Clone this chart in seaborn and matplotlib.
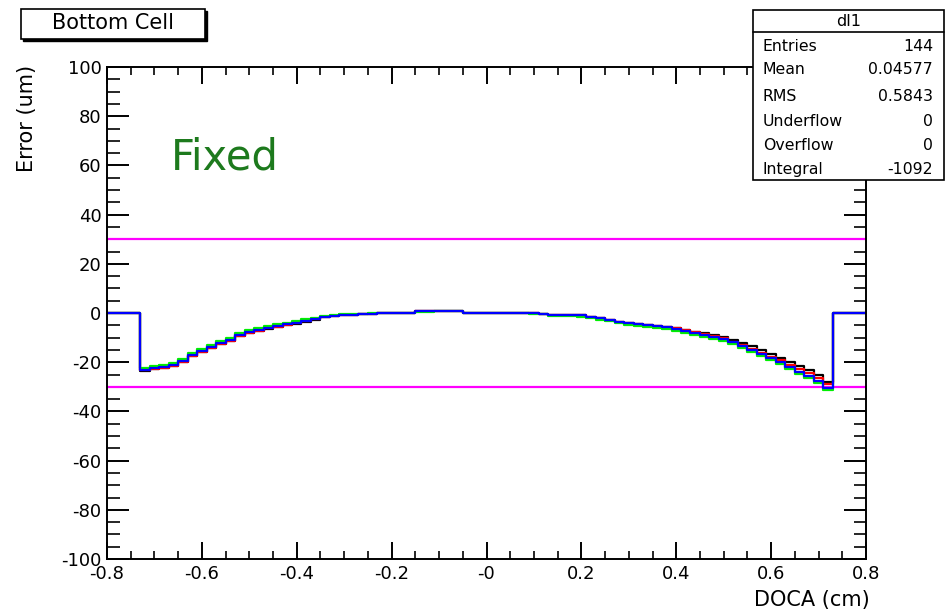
import numpy as np
import pandas as pd
import matplotlib
matplotlib.use("Agg")
import matplotlib.pyplot as plt
from matplotlib.patches import Rectangle
from matplotlib.lines import Line2D
from matplotlib.ticker import FixedLocator, FixedFormatter, MultipleLocator
import seaborn as sns

# ---------------- data ----------------
doca_range = [-0.8, 0.8]          # histogram range (cm)
fit_range = [-0.73, 0.73]         # filled region (cm)
bin_width = 0.02

err_black = [-23.4, -22.8, -22.3, -21.6, -20.0, -17.5, -16.0, -14.3, -12.8, -11.3,
             -9.5, -8.3, -7.3, -6.4, -5.7, -5.0, -4.3, -3.5, -2.7, -1.8,
             -1.3, -1.0, -0.8, -0.6, -0.3, -0.2, 0.0, 0.1, 0.1, 0.9,
             0.9, 0.9, 0.9, 0.9, 0.1, 0.1, 0.1, 0.1, 0.1, 0.1,
             0.1, 0.0, -0.3, -0.8, -0.8, -0.9, -1.0, -1.5, -2.2, -2.8,
             -3.5, -4.1, -4.5, -4.9, -5.2, -5.5, -6.1, -6.8, -7.6, -8.2,
             -8.9, -9.8, -10.9, -12.1, -13.6, -15.1, -16.6, -18.1, -19.8, -21.6,
             -23.3, -25.3, -28.0]
err_red = [-23.3, -22.7, -22.2, -21.5, -19.9, -17.4, -15.9, -14.2, -12.7, -11.2,
           -9.4, -8.2, -7.2, -6.3, -5.6, -4.9, -4.2, -3.4, -2.6, -1.7,
           -1.2, -1.0, -0.8, -0.6, -0.3, -0.2, 0.0, 0.1, 0.1, 0.9,
           0.9, 0.9, 0.9, 0.9, 0.1, 0.1, 0.1, 0.1, 0.1, 0.1,
           0.1, 0.0, -0.3, -0.8, -0.8, -0.9, -1.0, -1.5, -2.2, -2.8,
           -3.5, -4.1, -4.5, -4.9, -5.3, -5.6, -6.3, -7.0, -7.9, -8.6,
           -9.3, -10.3, -11.6, -12.9, -14.5, -16.1, -17.7, -19.3, -21.0, -22.7,
           -24.4, -26.4, -29.0]
err_green = [-22.2, -21.5, -21.0, -20.4, -18.7, -16.2, -14.7, -13.0, -11.5, -10.0,
             -8.2, -7.0, -6.1, -5.3, -4.6, -3.9, -3.2, -2.6, -1.9, -1.1,
             -0.8, -0.6, -0.5, -0.3, -0.2, -0.1, 0.0, 0.1, 0.1, 0.5,
             0.5, 0.9, 0.9, 0.9, 0.0, 0.0, 0.0, 0.0, 0.0, 0.0,
             0.0, -0.3, -0.6, -1.1, -1.1, -1.3, -1.5, -2.0, -2.7, -3.4,
             -4.1, -4.8, -5.3, -5.7, -6.1, -6.6, -7.3, -8.1, -9.0, -9.7,
             -10.5, -11.5, -12.8, -14.2, -15.8, -17.5, -19.2, -20.9, -22.8, -24.7,
             -26.5, -28.5, -31.2]
err_blue = [-23.0, -22.3, -21.8, -21.2, -19.5, -17.0, -15.5, -13.8, -12.3, -10.8,
            -9.0, -7.8, -6.9, -6.0, -5.3, -4.6, -3.9, -3.2, -2.4, -1.5,
            -1.1, -0.9, -0.7, -0.5, -0.3, -0.2, 0.0, 0.1, 0.1, 0.9,
            0.9, 0.9, 0.9, 0.9, 0.1, 0.1, 0.1, 0.1, 0.1, 0.1,
            0.1, 0.0, -0.3, -0.8, -0.8, -0.9, -1.0, -1.5, -2.2, -2.8,
            -3.5, -4.1, -4.5, -4.9, -5.3, -5.7, -6.4, -7.2, -8.1, -8.8,
            -9.6, -10.6, -11.9, -13.3, -14.9, -16.6, -18.3, -20.0, -21.9, -23.8,
            -25.6, -27.6, -30.5]

series_names = ["black", "red", "green", "blue"]
series_colors = ["#000000", "#ff0000", "#00ee00", "#0000ff"]
limit_lines = [30, -30]

x_ticks = [-0.8, -0.6, -0.4, -0.2, 0.0, 0.2, 0.4, 0.6, 0.8]
x_tick_labels = ["-0.8", "-0.6", "-0.4", "-0.2", "-0", "0.2", "0.4", "0.6", "0.8"]
y_ticks = [-100, -80, -60, -40, -20, 0, 20, 40, 60, 80, 100]
y_tick_labels = ["-100", "-80", "-60", "-40", "-20", "0", "20", "40", "60", "80", "100"]

stats_title = "dl1"
stats_labels = ["Entries", "Mean", "RMS", "Underflow", "Overflow", "Integral"]
stats_values = ["144", "0.04577", "0.5843", "0", "0", "-1092"]

title_text = "Bottom Cell"
note_text = "Fixed"
x_label = "DOCA (cm)"
y_label = "Error (um)"

# ---------------- build table ----------------
edges = np.round(np.arange(fit_range[0], fit_range[1] + bin_width / 2, bin_width), 4)
x_steps = [doca_range[0]] + list(edges) + [doca_range[1]]
rows = []
for name, vals in zip(series_names, [err_black, err_red, err_green, err_blue]):
    ys = [0.0] + list(vals) + [0.0, 0.0]
    for xv, yv in zip(x_steps, ys):
        rows.append({"doca": xv, "err": yv, "series": name})
df = pd.DataFrame(rows)

# ---------------- figure ----------------
sns.set_theme(style="ticks")
plt.rcParams["font.family"] = ["DejaVu Sans"]

W, H = 951, 611
fig = plt.figure(figsize=(W / 100, H / 100), dpi=100)
fig.patch.set_facecolor("white")
ax = fig.add_axes([107 / W, 1 - 559 / H, 759 / W, 492 / H])
ax.set_facecolor("white")

sns.lineplot(data=df, x="doca", y="err", hue="series", hue_order=series_names,
             palette=dict(zip(series_names, series_colors)), drawstyle="steps-post",
             linewidth=1.6, legend=False, estimator=None, sort=False, ax=ax)

for yl in limit_lines:
    ax.axhline(yl, color="#ff00ff", linewidth=1.6, zorder=1)

ax.set_xlim(doca_range)
ax.set_ylim(-100, 100)

ax.xaxis.set_major_locator(FixedLocator(x_ticks))
ax.xaxis.set_major_formatter(FixedFormatter(x_tick_labels))
ax.xaxis.set_minor_locator(MultipleLocator(0.05))
ax.yaxis.set_major_locator(FixedLocator(y_ticks))
ax.yaxis.set_major_formatter(FixedFormatter(y_tick_labels))
ax.yaxis.set_minor_locator(MultipleLocator(5))

for s in ax.spines.values():
    s.set_visible(True)
    s.set_linewidth(1.4)
    s.set_color("black")

ax.tick_params(axis="x", which="major", direction="in", length=12, width=1.4,
               top=True, bottom=True, pad=4.5, labelsize=13, colors="black")
ax.tick_params(axis="x", which="minor", direction="in", length=6, width=1.4,
               top=True, bottom=True)
ax.tick_params(axis="y", which="major", direction="in", length=16, width=1.4,
               left=True, right=True, pad=4, labelsize=13, colors="black")
ax.tick_params(axis="y", which="minor", direction="in", length=9, width=1.4,
               left=True, right=True)

ax.set_xlabel(x_label, fontsize=15, color="black")
ax.xaxis.set_label_coords(1.005, (559 - 600) / 492)
ax.xaxis.label.set_ha("right")
ax.xaxis.label.set_va("center")

ax.set_ylabel(y_label, fontsize=15, color="black")
ax.yaxis.label.set_rotation_mode("default")
ax.yaxis.label.set_ha("center")
ax.yaxis.label.set_va("top")
ax.yaxis.set_label_coords((27 - 107) / 759, 1 + (67 - 65) / 492)

ax.text((171 - 107) / 759, (559 - 170) / 492, note_text, transform=ax.transAxes,
        fontsize=30, color="#1d7a1d", ha="left", va="baseline")


def fx(px):
    return px / W


def fy(py):
    return 1 - py / H


# Title pave with shadow
fig.patches.append(Rectangle((fx(23), fy(41)), fx(205) - fx(21), fy(9) - fy(39),
                             transform=fig.transFigure, facecolor="black",
                             edgecolor="black", linewidth=1.0, zorder=4))
fig.patches.append(Rectangle((fx(21), fy(39)), fx(205) - fx(21), fy(9) - fy(39),
                             transform=fig.transFigure, facecolor="white",
                             edgecolor="black", linewidth=1.2, zorder=5))
fig.text(fx(113), fy(23), title_text, fontsize=15, ha="center", va="center",
         color="black", zorder=6)

# Stats box
bx0, bx1, by0, by1 = 753, 944, 10, 180
fig.patches.append(Rectangle((fx(bx0), fy(by1)), fx(bx1) - fx(bx0), fy(by0) - fy(by1),
                             transform=fig.transFigure, facecolor="white",
                             edgecolor="black", linewidth=1.2, zorder=5))
fig.lines.append(Line2D([fx(bx0), fx(bx1)], [fy(32), fy(32)], transform=fig.transFigure,
                        color="black", linewidth=1.2, zorder=6))
fig.text(fx((bx0 + bx1) / 2), fy(21.5), stats_title, fontsize=11.5, ha="center",
         va="center", color="black", zorder=6)
row_y = [46.5, 70, 96.5, 121.5, 146, 170]
for lab, val, ry in zip(stats_labels, stats_values, row_y):
    fig.text(fx(763), fy(ry), lab, fontsize=11.3, ha="left", va="center",
             color="black", zorder=6)
    fig.text(fx(933), fy(ry), val, fontsize=11.3, ha="right", va="center",
             color="black", zorder=6)

fig.savefig("out.png", dpi=100, facecolor="white")
